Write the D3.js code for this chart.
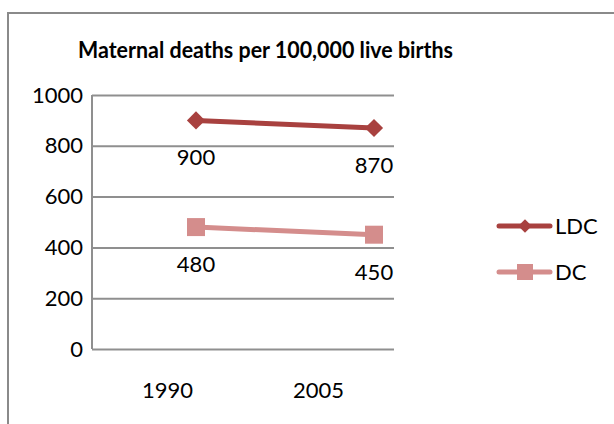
<!DOCTYPE html>
<html>
<head>
<meta charset="utf-8">
<script src="https://cdn.jsdelivr.net/npm/d3@7"></script>
<style>
  body { margin: 0; background: #fff; }
  text { font-family: Lato, "Open Sans", sans-serif; fill: #000; }
</style>
</head>
<body>
<script>
// chart data
const years = ["1990", "2005"];
const ldc = [900, 870];
const dc = [480, 450];
const yTicks = [0, 200, 400, 600, 800, 1000];
const seriesNames = ["LDC", "DC"];
const seriesColors = ["#A8413F", "#D48D8C"];

let width = 614,
    height = 424;
let fs = "22px";

let svg = d3.select("body")
    .append("svg")
    .attr("width", width)
    .attr("height", height);

// outer chart frame
svg.append("rect")
    .attr("x", 8)
    .attr("y", 13)
    .attr("width", 640)
    .attr("height", 440)
    .attr("fill", "white")
    .attr("stroke", "#8a8a8a")
    .attr("stroke-width", 2);

svg.append("text")
    .attr("x", 78)
    .attr("y", 58)
    .attr("textLength", 375)
    .attr("lengthAdjust", "spacingAndGlyphs")
    .style("font-size", "23.5px")
    .style("font-weight", "bold")
    .text("Maternal deaths per 100,000  live births");

let plot = { left: 92, right: 394, top: 95, bottom: 349 };

let y = d3.scaleLinear()
    .domain([0, 1000])
    .range([plot.bottom, plot.top]);

// category slots for the axis labels
let xBand = d3.scaleBand()
    .domain(years)
    .range([plot.left, plot.right]);

// the markers sit a bit to the right of the labels, as in the original
let xMark = d3.scalePoint()
    .domain(years)
    .range([196, 374]);

// gridlines + y labels
let yAxis = svg.append("g")
    .attr("transform", `translate(${plot.left},0)`)
    .call(d3.axisLeft(y)
        .tickValues(yTicks)
        .tickFormat(d3.format("d"))
        .tickSize(-(plot.right - plot.left))
        .tickPadding(9));
yAxis.select(".domain").remove();
yAxis.selectAll(".tick line")
    .attr("stroke", "#8f8f8f")
    .attr("stroke-width", 2);
yAxis.selectAll(".tick text")
    .style("font-size", fs)
    .style("font-family", "Lato, sans-serif");

// left axis line
svg.append("line")
    .attr("x1", plot.left).attr("x2", plot.left)
    .attr("y1", plot.top).attr("y2", plot.bottom)
    .attr("stroke", "#8f8f8f")
    .attr("stroke-width", 2);

// x labels
svg.selectAll(".xlab")
    .data(years)
    .enter()
    .append("text")
    .attr("class", "xlab")
    .attr("x", d => xBand(d) + xBand.bandwidth() / 2)
    .attr("y", 398)
    .attr("text-anchor", "middle")
    .style("font-size", fs)
    .text(d => d);

let series = [ldc, dc];
// diamond = square turned 45 degrees
let rot = [45, 0];
let symSize = [165, 324];

let line = d3.line()
    .x((d, i) => xMark(years[i]))
    .y(d => y(d));

series.forEach((vals, s) => {
    svg.append("path")
        .datum(vals)
        .attr("d", line)
        .attr("fill", "none")
        .attr("stroke", seriesColors[s])
        .attr("stroke-width", 5);

    svg.selectAll(".m" + s)
        .data(vals)
        .enter()
        .append("path")
        .attr("class", "m" + s)
        .attr("transform", (d, i) => `translate(${xMark(years[i])},${y(d)}) rotate(${rot[s]})`)
        .attr("d", d3.symbol().type(d3.symbolSquare).size(symSize[s]))
        .attr("fill", seriesColors[s]);

    // value labels under each point
    svg.selectAll(".v" + s)
        .data(vals)
        .enter()
        .append("text")
        .attr("class", "v" + s)
        .attr("x", (d, i) => xMark(years[i]))
        .attr("y", d => y(d) + 45)
        .attr("text-anchor", "middle")
        .style("font-size", fs)
        .text(d => d);
});

// legend
let legend = svg.append("g");
seriesNames.forEach((name, s) => {
    let ly = 226 + s * 46;
    legend.append("line")
        .attr("x1", 499).attr("x2", 550)
        .attr("y1", ly).attr("y2", ly)
        .attr("stroke", seriesColors[s])
        .attr("stroke-width", 5)
        .attr("stroke-linecap", "round");
    legend.append("path")
        .attr("transform", `translate(525,${ly}) rotate(${rot[s]})`)
        .attr("d", d3.symbol().type(d3.symbolSquare).size(s == 0 ? 90 : 256))
        .attr("fill", seriesColors[s]);
    legend.append("text")
        .attr("x", 555)
        .attr("y", ly + 8)
        .style("font-size", fs)
        .text(name);
});
</script>
</body>
</html>
